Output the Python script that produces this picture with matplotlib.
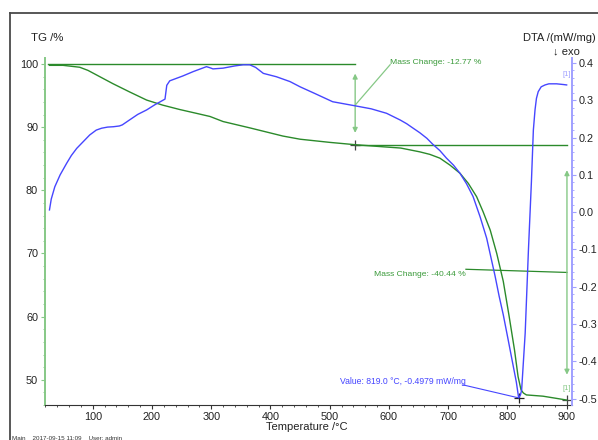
import matplotlib.pyplot as plt
from matplotlib.lines import Line2D
from matplotlib.ticker import AutoMinorLocator, MultipleLocator

plt.rcParams["font.family"] = ["Liberation Sans", "DejaVu Sans"]

# TG curve: temperature (°C) vs. mass (%)
tg_temp = [27, 50, 78, 92, 106, 120, 134, 162, 191, 218, 247, 275, 298, 320,
           365, 421, 450, 500, 543, 590, 620, 652, 669, 686, 703, 720, 734,
           748, 759, 771, 782, 793, 803, 812, 818, 823, 827, 832, 860, 900]
tg_mass = [99.8, 99.8, 99.5, 99.0, 98.3, 97.6, 96.9, 95.6, 94.3, 93.5, 92.8,
           92.2, 91.7, 90.9, 89.9, 88.6, 88.1, 87.6, 87.23, 86.9, 86.7, 86.1,
           85.7, 85.1, 84.0, 82.7, 81.1, 79.0, 76.6, 73.7, 70.0, 65.6, 60.0,
           54.7, 50.5, 48.4, 47.9, 47.6, 47.4, 46.79]

# DTA curve: temperature (°C) vs. signal (mW/mg)
dta_temp = [27, 30, 36, 45, 56, 64, 73, 84, 95, 106, 115, 125, 135, 145, 150,
            162, 176, 191, 205, 222, 225, 230, 252, 270, 292, 298, 303, 320,
            340, 354, 365, 375, 388, 410, 433, 450, 475, 505, 543, 570, 596,
            619, 630, 640, 652, 664, 674, 686, 697, 709, 720, 731, 742, 754,
            765, 772, 779, 786, 793, 801, 810, 815, 819, 822, 824, 830, 835.5,
            840.5, 843.8, 846.6, 849, 852, 857, 863.5, 870, 883, 895, 900]
dta_val = [0.006, 0.035, 0.068, 0.100, 0.131, 0.152, 0.171, 0.189, 0.207,
           0.220, 0.225, 0.228, 0.229, 0.231, 0.234, 0.247, 0.262, 0.274,
           0.288, 0.303, 0.340, 0.352, 0.365, 0.377, 0.390, 0.387, 0.384,
           0.386, 0.392, 0.395, 0.395, 0.388, 0.372, 0.363, 0.350, 0.336,
           0.318, 0.296, 0.285, 0.277, 0.265, 0.247, 0.237, 0.226, 0.213,
           0.198, 0.182, 0.165, 0.145, 0.126, 0.104, 0.076, 0.042, -0.013,
           -0.070, -0.120, -0.170, -0.225, -0.275, -0.340, -0.414, -0.455,
           -0.4979, -0.490, -0.477, -0.324, -0.101, 0.081, 0.220, 0.274,
           0.305, 0.323, 0.336, 0.341, 0.344, 0.344, 0.342, 0.341]

# mass change steps and DTA peak
step_temp = [543, 900.5]
step_mass = [100.0, 87.23, 46.79]
step_labels = ["Mass Change: -12.77 %", "Mass Change: -40.44 %"]
peak_temp = 819.0
peak_val = -0.4979
peak_label = "Value: 819.0 °C, -0.4979 mW/mg"

TG_COLOR = "#2b8a2b"
TG_LIGHT = "#86c886"
DTA_COLOR = "#4646ff"
DTA_LIGHT = "#a0a0ff"
MARK_COLOR = "#444444"


def style_axes(ax, ax2):
    ax.set_xlim(19.5, 909)
    ax.set_ylim(46.0, 100.95)
    ax2.set_ylim(-0.517, 0.413)

    for side in ["top", "right"]:
        ax.spines[side].set_visible(False)
    for side in ["top", "left", "bottom"]:
        ax2.spines[side].set_visible(False)
    ax.spines["left"].set_color(TG_LIGHT)
    ax.spines["left"].set_linewidth(1.4)
    ax.spines["bottom"].set_color("#333333")
    ax.spines["bottom"].set_linewidth(0.8)
    ax2.spines["right"].set_color(DTA_LIGHT)
    ax2.spines["right"].set_linewidth(1.4)

    ax.xaxis.set_major_locator(MultipleLocator(100))
    ax.xaxis.set_minor_locator(AutoMinorLocator(5))
    ax.yaxis.set_major_locator(MultipleLocator(10))
    ax.yaxis.set_minor_locator(AutoMinorLocator(5))
    ax2.yaxis.set_major_locator(MultipleLocator(0.1))
    ax2.yaxis.set_minor_locator(AutoMinorLocator(5))
    ax2.yaxis.set_major_formatter(lambda v, pos: f"{v:.1f}")

    ax.tick_params(axis="x", which="major", length=3, color="#333333",
                   labelsize=7.8, labelcolor="#222222", pad=2)
    ax.tick_params(axis="x", which="minor", length=1.5, color="#333333")
    ax.tick_params(axis="y", which="major", length=3, color=TG_LIGHT,
                   labelsize=7.8, labelcolor="#222222", pad=2)
    ax.tick_params(axis="y", which="minor", length=1.5, color=TG_LIGHT)
    ax2.tick_params(axis="y", which="major", length=3, color=DTA_LIGHT,
                    labelsize=7.8, labelcolor="#222222", pad=2)
    ax2.tick_params(axis="y", which="minor", length=1.5, color=DTA_LIGHT)


def draw_steps(ax):
    # horizontal reference levels
    ax.plot([25, step_temp[0]], [step_mass[0]] * 2, color=TG_COLOR, lw=1.0)
    ax.plot([step_temp[0], step_temp[1]], [step_mass[1]] * 2, color=TG_COLOR, lw=1.0)

    # first step: -12.77 %
    ax.annotate("", xy=(step_temp[0], 98.5), xytext=(step_temp[0], 89.1),
                arrowprops=dict(arrowstyle="<|-|>", color=TG_LIGHT, lw=1.0,
                                mutation_scale=7, shrinkA=0, shrinkB=0))
    ax.plot([step_temp[0], 602], [93.5, 99.9], color=TG_LIGHT, lw=0.9)
    ax.text(602, 100.2, step_labels[0], color="#3a9a3a", fontsize=6.1,
            ha="left", va="center")

    # second step: -40.44 %
    ax.annotate("", xy=(step_temp[1], 83.2), xytext=(step_temp[1], 50.8),
                arrowprops=dict(arrowstyle="<|-|>", color=TG_LIGHT, lw=1.0,
                                mutation_scale=7, shrinkA=0, shrinkB=0))
    ax.plot([730, step_temp[1]], [67.5, 67.0], color=TG_COLOR, lw=0.9)
    ax.text(729, 66.6, step_labels[1], color="#3a9a3a", fontsize=6.1,
            ha="right", va="center")

    ax.plot([step_temp[0], step_temp[1]], [step_mass[1], step_mass[2]], ls="none",
            marker="+", ms=7, mew=0.9, color=MARK_COLOR)
    ax.text(step_temp[1], 48.6, "[1]", color=TG_LIGHT, fontsize=5.5,
            ha="center", va="center")


def draw_peak(ax2):
    ax2.plot([725, peak_temp], [-0.463, peak_val], color=DTA_COLOR, lw=0.8)
    ax2.plot([peak_temp], [peak_val], ls="none", marker="+", ms=7, mew=0.9,
             color="#222222")
    ax2.text(730, -0.454, peak_label, color=DTA_COLOR, fontsize=6.2,
             ha="right", va="center")
    ax2.text(900, 0.368, "[1]", color=DTA_LIGHT, fontsize=5.5,
             ha="center", va="center")


fig = plt.figure(figsize=(5.98, 4.40), dpi=100)
ax = fig.add_axes([0.0753, 0.0795, 0.8812, 0.7885])
ax2 = ax.twinx()
ax.patch.set_visible(False)

style_axes(ax, ax2)

ax.plot(tg_temp, tg_mass, color=TG_COLOR, lw=1.0, zorder=3)
ax2.plot(dta_temp, dta_val, color=DTA_COLOR, lw=1.0, zorder=3)
draw_steps(ax)
draw_peak(ax2)

# outer frame, axis titles and footer
fig.add_artist(Line2D([0.0167, 1.0], [0.9705, 0.9705], color="#4a4a4a", lw=1.3))
fig.add_artist(Line2D([0.0167, 0.0167], [0.0, 0.9705], color="#4a4a4a", lw=1.3))
fig.text(0.052, 0.9136, "TG /%", fontsize=8.2, color="#222222", va="center")
fig.text(0.997, 0.9136, "DTA /(mW/mg)", fontsize=8.0, color="#222222",
         ha="right", va="center")
fig.text(0.925, 0.882, "↓ exo", fontsize=8.0, color="#222222", va="center")
fig.text(0.513, 0.029, "Temperature /°C", fontsize=8.0, color="#222222",
         ha="center", va="center")
fig.text(0.02, 0.003, "Main    2017-09-15 11:09    User: admin", fontsize=4.5,
         color="#333333", va="center")

fig.savefig("out.png", dpi=100)
